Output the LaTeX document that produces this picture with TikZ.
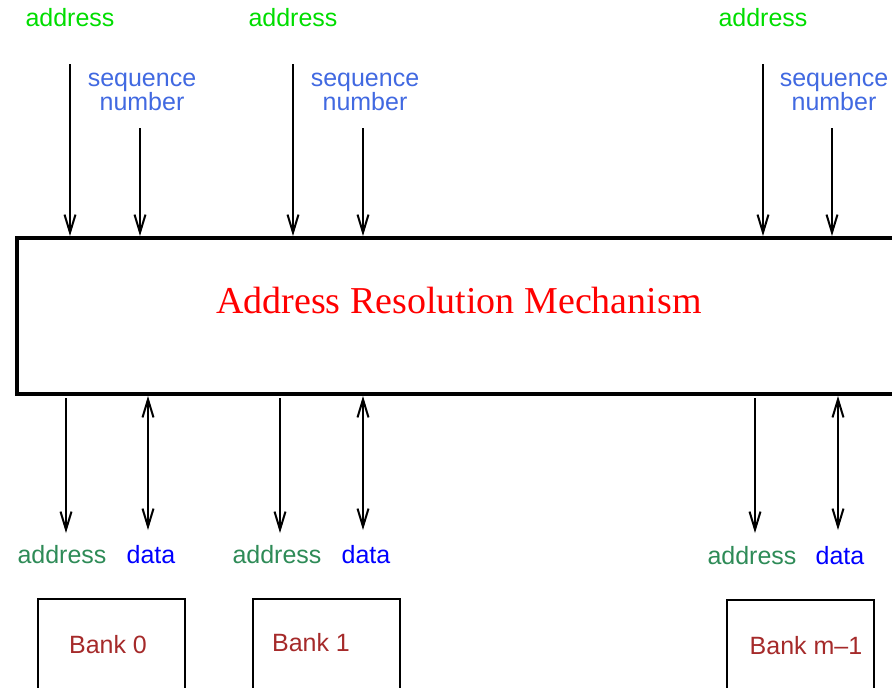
\documentclass[tikz,border=0pt]{standalone}
\usepackage{fontspec}
\setmainfont{Liberation Serif}
\setsansfont{Liberation Sans}
\usetikzlibrary{arrows.meta}
\definecolor{addrgreen}{RGB}{0,221,0}
\definecolor{seqblue}{RGB}{65,105,225}
\definecolor{busgreen}{RGB}{46,139,87}
\definecolor{datablue}{RGB}{0,0,255}
\definecolor{bankred}{RGB}{165,42,42}
\tikzset{
  lbl/.style={font=\sffamily\fontsize{25}{24}\selectfont, inner sep=0pt, anchor=base, align=center},
  inaddr/.style={lbl, text=addrgreen},
  inseq/.style={lbl, text=seqblue},
  outaddr/.style={lbl, text=busgreen},
  outdata/.style={lbl, text=datablue},
  banktext/.style={lbl, text=bankred},
  sig/.style={line width=2pt, -{Straight Barb[length=18pt,width=11pt,line width=2pt]}},
  bisig/.style={line width=2pt, {Straight Barb[length=18pt,width=11pt,line width=2pt]}-{Straight Barb[length=18pt,width=11pt,line width=2pt]}},
  bankbox/.style={draw, line width=2pt, outer sep=0pt, anchor=north west, minimum width=147pt, minimum height=130pt, inner sep=0pt},
}
\begin{document}
\begin{tikzpicture}[x=1pt,y=-1pt]
\useasboundingbox (0,0) rectangle (892,688);
\clip (0,0) rectangle (892,688);

% resolution unit (runs off the right edge)
\node[draw, line width=4pt, outer sep=0pt, anchor=north west, minimum width=960pt, minimum height=156pt, inner sep=0pt] (arm) at (17,238) {};
\node[font=\rmfamily\fontsize{38}{40}\selectfont, text=red, anchor=base, inner sep=0pt] (title) at (459,313) {Address Resolution Mechanism};

% input labels
\node[inaddr] (ia0) at (70,26) {address};
\node[inaddr] (ia1) at (293,26) {address};
\node[inaddr] (ia2) at (763,26) {address};
\node[inseq] (is0) at (142,110) {sequence\\number};
\node[inseq] (is1) at (365,110) {sequence\\number};
\node[inseq] (is2) at (834,110) {sequence\\number};

% input arrows
\foreach \i/\xa/\xs in {0/70/140, 1/293/363, 2/763/832} {
  \coordinate (ta\i) at (\xa,64);
  \coordinate (ha\i) at (\xa,236);
  \coordinate (ts\i) at (\xs,128);
  \coordinate (hs\i) at (\xs,236);
  \draw[sig] (ta\i) -- (ha\i);
  \draw[sig] (ts\i) -- (hs\i);
}

% output arrows
\foreach \i/\xa/\xd in {0/66/148, 1/280/363, 2/755/838} {
  \coordinate (oa\i) at (\xa,398);
  \coordinate (ea\i) at (\xa,533);
  \coordinate (od\i) at (\xd,396);
  \coordinate (ed\i) at (\xd,530);
  \draw[sig] (oa\i) -- (ea\i);
  \draw[bisig] (ed\i) -- (od\i);
}

% output labels
\node[outaddr] (oal0) at (62,563) {address};
\node[outdata] (odl0) at (151,563) {data};
\node[outaddr] (oal1) at (277,563) {address};
\node[outdata] (odl1) at (366,563) {data};
\node[outaddr] (oal2) at (752,564) {address};
\node[outdata] (odl2) at (840,564) {data};

% memory banks
\node[bankbox] (b0) at (38,599) {};
\node[bankbox] (b1) at (253,599) {};
\node[bankbox] (b2) at (727,600) {};
\node[banktext] (bt0) at (108,653) {Bank 0};
\node[banktext] (bt1) at (311,651) {Bank 1};
\node[banktext] (bt2) at (806,654) {Bank m\textendash1};
\end{tikzpicture}
\end{document}
